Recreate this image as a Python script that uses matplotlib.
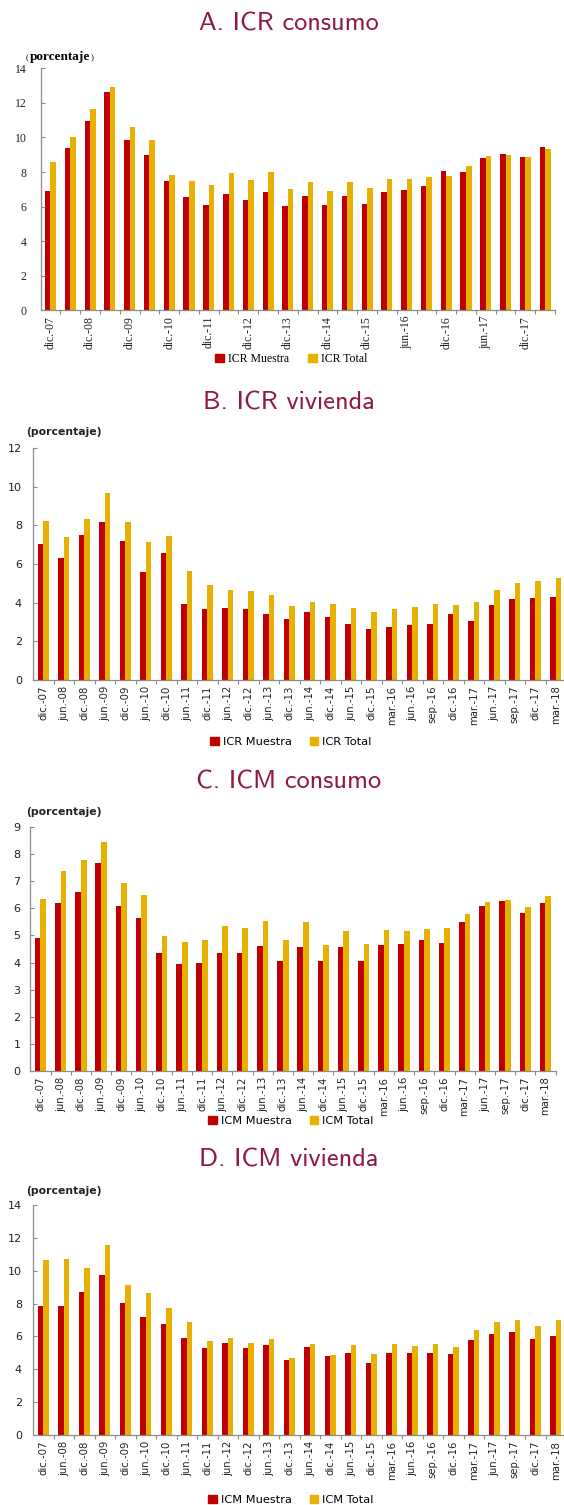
import matplotlib
matplotlib.use("Agg")
import matplotlib.pyplot as plt
from matplotlib.patches import Patch

# ---------------- data ----------------
categories = ["dic.-07", "jun.-08", "dic.-08", "jun.-09", "dic.-09", "jun.-10", "dic.-10",
              "jun.-11", "dic.-11", "jun.-12", "dic.-12", "jun.-13", "dic.-13", "jun.-14",
              "dic.-14", "jun.-15", "dic.-15", "mar.-16", "jun.-16", "sep.-16", "dic.-16",
              "mar.-17", "jun.-17", "sep.-17", "dic.-17", "mar.-18"]

icr_consumo_muestra = [6.9, 9.37, 10.94, 12.63, 9.87, 9.0, 7.46, 6.55, 6.1, 6.74, 6.4, 6.84, 6.05,
                       6.59, 6.1, 6.61, 6.16, 6.84, 6.96, 7.19, 8.04, 8.0, 8.83, 9.04, 8.85, 9.44]
icr_consumo_total = [8.6, 10.04, 11.65, 12.94, 10.6, 9.85, 7.83, 7.5, 7.25, 7.92, 7.54, 7.98, 7.03,
                     7.42, 6.9, 7.44, 7.07, 7.57, 7.61, 7.73, 7.79, 8.37, 8.95, 9.0, 8.89, 9.35]

icr_vivienda_muestra = [7.03, 6.31, 7.5, 8.16, 7.21, 5.57, 6.59, 3.93, 3.67, 3.74, 3.67, 3.41, 3.14,
                        3.5, 3.26, 2.9, 2.62, 2.72, 2.84, 2.91, 3.41, 3.03, 3.88, 4.21, 4.26, 4.31]
icr_vivienda_total = [8.24, 7.41, 8.33, 9.69, 8.17, 7.16, 7.43, 5.62, 4.91, 4.66, 4.59, 4.4, 3.81,
                      4.03, 3.95, 3.71, 3.52, 3.66, 3.79, 3.93, 3.88, 4.03, 4.66, 5.0, 5.14, 5.29]

icm_consumo_muestra = [4.91, 6.19, 6.62, 7.68, 6.09, 5.64, 4.34, 3.94, 3.97, 4.35, 4.34, 4.62, 4.05,
                       4.57, 4.07, 4.58, 4.07, 4.66, 4.68, 4.83, 4.71, 5.49, 6.09, 6.27, 5.81, 6.19]
icm_consumo_total = [6.33, 7.38, 7.79, 8.43, 6.93, 6.49, 4.98, 4.74, 4.85, 5.36, 5.26, 5.53, 4.83,
                     5.48, 4.64, 5.18, 4.69, 5.21, 5.16, 5.25, 5.26, 5.79, 6.24, 6.3, 6.06, 6.44]

icm_vivienda_muestra = [7.84, 7.82, 8.67, 9.74, 8.04, 7.17, 6.75, 5.9, 5.33, 5.6, 5.33, 5.47, 4.59,
                        5.37, 4.83, 5.01, 4.4, 4.97, 4.97, 4.97, 4.91, 5.8, 6.14, 6.3, 5.82, 6.02]
icm_vivienda_total = [10.67, 10.69, 10.18, 11.54, 9.15, 8.63, 7.74, 6.85, 5.7, 5.9, 5.58, 5.86, 4.71,
                      5.52, 4.85, 5.49, 4.95, 5.52, 5.43, 5.56, 5.37, 6.4, 6.85, 7.03, 6.63, 6.97]

titles = ["A. ICR consumo", "B. ICR vivienda", "C. ICM consumo", "D. ICM vivienda"]
legend_labels = [("ICR Muestra", "ICR Total"), ("ICR Muestra", "ICR Total"),
                 ("ICM Muestra", "ICM Total"), ("ICM Muestra", "ICM Total")]
y_max = [14, 12, 9, 14]
y_step = [2, 2, 1, 2]

# ---------------- style ----------------
W, H = 564, 1505
RED = "#C00000"
GOLD = "#E8B000"
TITLE_COLOR = "#8F1A3E"
SPINE = "#8C8C8C"

fig = plt.figure(figsize=(W / 100, H / 100), dpi=100)
renderer = fig.canvas.get_renderer()


def rect(l, t, r, b):
    return [l / W, 1 - b / H, (r - l) / W, (b - t) / H]


def fx(x):
    return x / W


def fy(y):
    return 1 - y / H


panels = [
    dict(box=(40.6, 68.3, 555, 310.3), title_y=24, pct=(26, 57), legend_y=359, serif=True,
         every=2, data=(icr_consumo_muestra, icr_consumo_total), ypad=10),
    dict(box=(33, 448, 566, 680), title_y=403, pct=(26, 432), legend_y=742, serif=False,
         every=1, data=(icr_vivienda_muestra, icr_vivienda_total), ypad=8),
    dict(box=(30.4, 827, 555.5, 1071), title_y=782, pct=(26, 812), legend_y=1121, serif=False,
         every=1, data=(icm_consumo_muestra, icm_consumo_total), ypad=7),
    dict(box=(33, 1204.7, 566, 1435.3), title_y=1160, pct=(26, 1191), legend_y=1500, serif=False,
         every=1, data=(icm_vivienda_muestra, icm_vivienda_total), ypad=8),
]

x = list(range(len(categories)))
bw = 0.28

for k, p in enumerate(panels):
    fam = "Liberation Serif" if p["serif"] else "DejaVu Sans"
    ax = fig.add_axes(rect(*p["box"]))
    m, t = p["data"]
    ax.bar([i - bw / 2 for i in x], m, width=bw, color=RED, linewidth=0)
    ax.bar([i + bw / 2 for i in x], t, width=bw, color=GOLD, linewidth=0)
    ax.set_xlim(-0.5, len(categories) - 0.5)
    ax.set_ylim(0, y_max[k])
    ax.set_yticks(range(0, y_max[k] + 1, y_step[k]))
    for s in ["top", "right"]:
        ax.spines[s].set_visible(False)
    for s in ["left", "bottom"]:
        ax.spines[s].set_color(SPINE)
        ax.spines[s].set_linewidth(0.9)
    labels = [c if i % p["every"] == 0 else "" for i, c in enumerate(categories)]
    ax.set_xticks(x)
    ax.set_xticklabels(labels, rotation=90, family=fam,
                       fontsize=8.5 if p["serif"] else 7.3, color="#222222")
    ax.set_xticks([i + 0.5 for i in x], minor=True)
    ax.tick_params(axis="x", which="major", length=0, pad=4)
    ax.tick_params(axis="x", which="minor", length=3, direction="out", color=SPINE, width=0.8)
    ax.tick_params(axis="y", length=3, direction="in", color=SPINE, width=0.8, pad=p["ypad"],
                   labelsize=8.5 if p["serif"] else 8, labelcolor="#222222")
    for lab in ax.get_yticklabels():
        lab.set_family(fam)

    fig.text(fx(289), fy(p["title_y"]), titles[k], family="cmss10", fontsize=19,
             color=TITLE_COLOR, ha="center", va="center")

    px, py = p["pct"]
    if p["serif"]:
        t1 = fig.text(fx(px), fy(py + 1), "(", family=fam, fontsize=6.5, ha="left", va="center")
        x1 = t1.get_window_extent(renderer).x1
        t2 = fig.text(x1 / W + 0.5 / W, fy(py), "porcentaje", family=fam, fontsize=9.5,
                      fontweight="bold", ha="left", va="center")
        x2 = t2.get_window_extent(renderer).x1
        fig.text(x2 / W + 0.5 / W, fy(py + 1), ")", family=fam, fontsize=6.5, ha="left", va="center")
    else:
        fig.text(fx(px), fy(py), "(porcentaje)", family=fam, fontsize=7.8,
                 fontweight="bold", ha="left", va="center", color="#222222")

    handles = [Patch(color=RED), Patch(color=GOLD)]
    fig.legend(handles, legend_labels[k], loc="center", bbox_to_anchor=(fx(291), fy(p["legend_y"])),
               ncol=2, frameon=False, handlelength=0.75, handleheight=0.75, handletextpad=0.35,
               columnspacing=1.6, borderpad=0,
               prop=dict(family=fam, size=8.5 if p["serif"] else 8.2))

fig.savefig("out.png", dpi=100)
